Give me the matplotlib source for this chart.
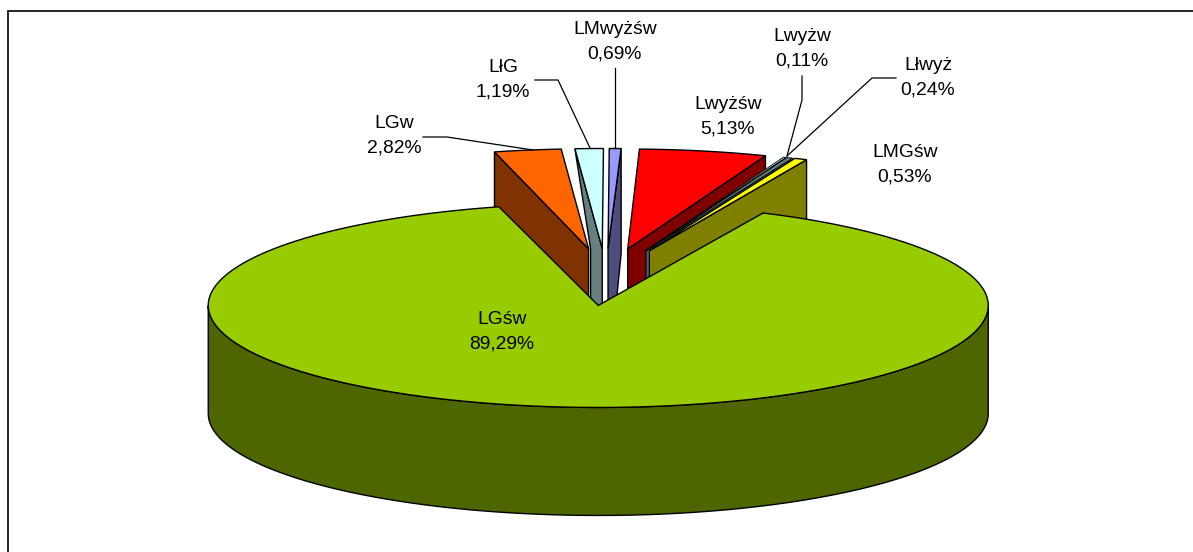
import numpy as np
import matplotlib
matplotlib.use('Agg')
import matplotlib.pyplot as plt
from matplotlib.patches import Polygon

plt.rcParams['font.family'] = ['Liberation Sans', 'DejaVu Sans']

# slices, counter-clockwise starting from the right edge of LGsw
labels = ['LMGśw', 'Lłwyż', 'Lwyżw', 'Lwyżśw', 'LMwyżśw', 'LłG', 'LGw', 'LGśw']
shares = [0.53, 0.24, 0.11, 5.13, 0.69, 1.19, 2.82, 89.29]
percent_text = ['0,53%', '0,24%', '0,11%', '5,13%', '0,69%', '1,19%', '2,82%', '89,29%']

top_colors = ['#FFFF00', '#668080', '#CCFFFF', '#FF0000', '#9999FF', '#CCFFFF', '#FF6600', '#99CC00']
side_colors = ['#808000', '#668080', '#668080', '#800000', '#4D4D80', '#668080', '#803300', '#4D6600']

# pie geometry in pixels
cx, cy = 606, 277
rx, ry = 390, 102
explode = 0.28
depth = 108
start = 24.3  # clockwise from 12 o'clock
small_scale = 0.98  # the pulled out slices come out a bit smaller

# label centres and leader lines
label_xy = [(905, 165), (928, 78), (802, 49), (728, 117), (615, 42), (503, 80), (394, 136), (502, 332)]
leaders = {
    1: [(896, 78), (872, 78), (787, 156)],
    2: [(802, 76), (802, 100), (787, 156)],
    4: [(615, 68), (615, 148)],
    5: [(535, 80), (558, 80), (590, 148)],
    6: [(423, 137), (447, 137), (533, 150)],
}

fig = plt.figure(figsize=(11.93, 5.52), dpi=100)
ax = fig.add_axes([0, 0, 1, 1])
ax.set_xlim(0, 1193)
ax.set_ylim(552, 0)
ax.axis('off')


def slice_points(a0, a1, scale=1.0, shift=0):
    # angles are clockwise from the top; returns apex and arc of the top face
    mid = np.radians((a0 + a1) / 2)
    x0 = cx + explode * rx * np.sin(mid) + shift
    y0 = cy - explode * ry * np.cos(mid)
    t = np.radians(np.linspace(a0, a1, max(int(abs(a1 - a0)), 2) + 1))
    arc = np.column_stack([x0 + scale * rx * np.sin(t), y0 - scale * ry * np.cos(t)])
    return np.array([x0, y0]), arc


edges = start - np.cumsum([0] + [s * 3.6 for s in shares])
# small nudges so the slices near the top sit where the 3d view puts them
nudge = {3: (-0.9, 0), 4: (0, -0.7)}
geom = []
for i in range(len(shares) - 1):
    n0, n1 = nudge.get(i, (0, 0))
    geom.append(slice_points(edges[i + 1] + n0, edges[i] + n1, small_scale))
# big slice, wraps round the front, with its corners a little further open
geom.append(slice_points(edges[8] + 0.7, edges[7] - 0.5, 1.0, 2))
down = np.array([0, depth])

# small slices, back to front
for i in [6, 5, 4, 3, 2, 1, 0]:
    apex, arc = geom[i]
    if i in (5, 6):
        outer = arc[0]
    else:
        outer = arc[-1]
    face = [outer, apex, apex + down, outer + down]
    if i == 5:
        # the slice next to it hides part of this face
        n_apex = geom[6][0]
        face = [outer, apex, apex + down, n_apex + down + [2, 0], n_apex + [2, 0]]
    if i == 4:
        face = [outer, apex, apex + down, outer + [-4, 145], outer + [0, 105]]
    lw = 0.6 if i in (1, 2) else 1.0
    ax.add_patch(Polygon(face, closed=True, fc=side_colors[i], ec='black', lw=lw))
    ax.add_patch(Polygon(np.vstack([apex, arc]), closed=True, fc=top_colors[i], ec='black', lw=lw))

# the big slice: front wall, then top face
apex, arc = geom[7]
t_all = np.radians(np.linspace(90, 270, 181))
wall_top = np.column_stack([apex[0] + rx * np.sin(t_all), apex[1] - ry * np.cos(t_all)])
ax.add_patch(Polygon(np.vstack([wall_top, (wall_top + down)[::-1]]), closed=True,
                     fc=side_colors[7], ec='black', lw=1.0))
ax.add_patch(Polygon(np.vstack([apex, arc]), closed=True, fc=top_colors[7], ec='black', lw=1.0))

for pts in leaders.values():
    pts = np.array(pts)
    ax.plot(pts[:, 0], pts[:, 1], color='black', lw=0.9, solid_joinstyle='miter')

for name, pct, (x, y) in zip(labels, percent_text, label_xy):
    ax.text(x, y, name + '\n' + pct, ha='center', va='center', fontsize=13.9,
            color='black', linespacing=1.55)

# chart frame runs off the picture at the right and bottom
ax.plot([1193, 8, 8], [11, 11, 552], color='black', lw=1.2, solid_joinstyle='miter')

fig.savefig('out.png', dpi=100)
